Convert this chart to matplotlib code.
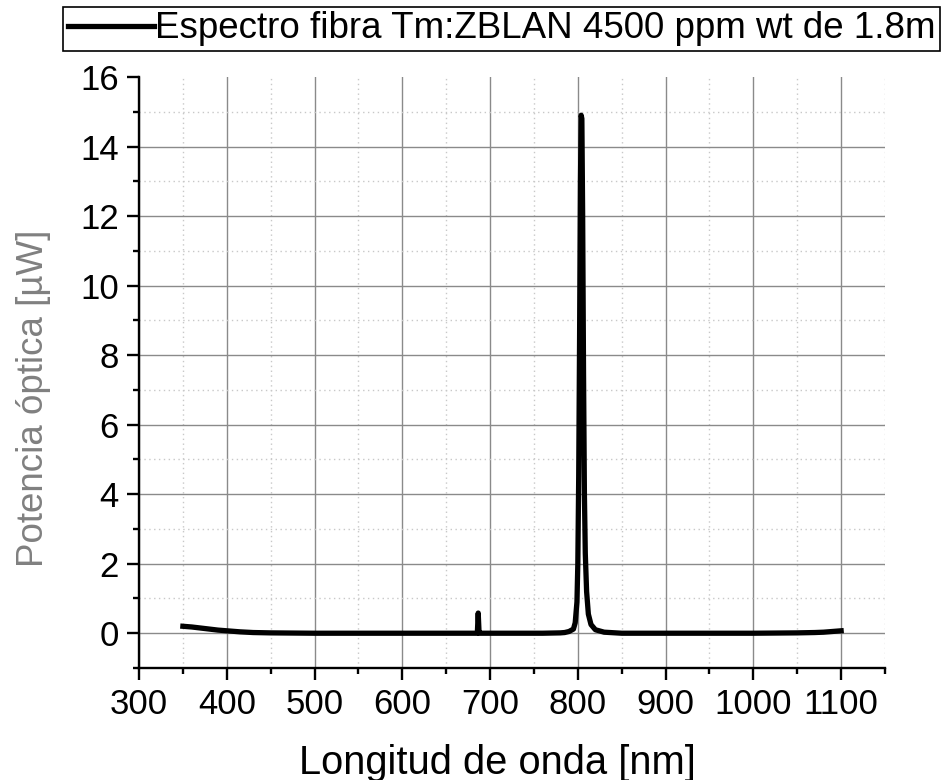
import matplotlib
matplotlib.use("Agg")
import matplotlib.pyplot as plt
from matplotlib.ticker import MultipleLocator

# espectro (nm, uW)
wl = [350, 360, 370, 380, 390, 400, 415, 430, 450, 500, 550, 600, 650, 680,
      685.5, 686.5, 687.5, 690, 720, 760, 780, 785, 790, 795, 797, 799, 800,
      801, 802, 803, 803.8, 804.6, 805.5, 806.5, 807.5, 808.5, 810, 812, 815,
      820, 830, 850, 900, 950, 1000, 1050, 1070, 1080, 1090, 1100]
pot = [0.2, 0.18, 0.15, 0.12, 0.09, 0.07, 0.04, 0.02, 0.01, 0.0, 0.0, 0.0, 0.0, 0.0,
       0.0, 0.58, 0.0, 0.0, 0.0, 0.0, 0.01, 0.02, 0.05, 0.12, 0.3, 0.9, 2.0,
       4.5, 8.5, 13.0, 14.9, 14.8, 12.0, 7.5, 4.0, 2.3, 1.2, 0.55, 0.25,
       0.1, 0.03, 0.0, 0.0, 0.0, 0.0, 0.01, 0.02, 0.03, 0.05, 0.07]

etiqueta = "Espectro fibra Tm:ZBLAN 4500 ppm wt de 1.8m"

plt.rcParams['font.family'] = ['Liberation Sans', 'DejaVu Sans']

fig = plt.figure(figsize=(9.43, 7.8), dpi=100)
ax = fig.add_axes([0.1474, 0.1436, 0.9385 - 0.1474, 0.9013 - 0.1436])

ax.plot(wl, pot, color='black', lw=3.8, solid_joinstyle='round', label=etiqueta)

ax.set_xlim(300, 1150)
ax.set_ylim(-1, 16)
ax.xaxis.set_major_locator(MultipleLocator(100))
ax.xaxis.set_minor_locator(MultipleLocator(50))
ax.yaxis.set_major_locator(MultipleLocator(2))
ax.yaxis.set_minor_locator(MultipleLocator(1))
ax.set_xticks(range(300, 1101, 100))

ax.grid(which='major', color='#8a8a8a', lw=1.0, ls='-')
ax.grid(which='minor', color='#c8c8c8', lw=1.0, ls=(0, (1, 2.5)))
ax.set_axisbelow(True)

for s in ['top', 'right']:
    ax.spines[s].set_visible(False)
for s in ['left', 'bottom']:
    ax.spines[s].set_linewidth(1.7)

ax.tick_params(which='major', direction='out', length=8.5, width=1.7, labelsize=25, pad=6)
ax.tick_params(which='minor', direction='out', length=4.3, width=1.7)

ax.set_xlabel("Longitud de onda [nm]", fontsize=28.7)
ax.set_ylabel("Potencia óptica [µW]", fontsize=26.5, color='#808080')
ax.xaxis.set_label_coords(0.48, -0.128)
ax.yaxis.set_label_coords(-0.118, 0.457)

fig.canvas.draw()
# sin linea de rejilla en el borde superior
for g, t in zip(ax.yaxis.get_gridlines(), ax.yaxis.get_majorticklocs()):
    if t >= 16:
        g.set_visible(False)

leg = fig.legend(loc='upper right', bbox_to_anchor=(940 / 943, 1 - 7 / 780),
                 fontsize=26.5, frameon=True, fancybox=False, framealpha=1,
                 edgecolor='black', handlelength=2.35, handletextpad=0.02,
                 borderpad=0.12, borderaxespad=0)
leg.get_frame().set_linewidth(1.2)

fig.savefig("out.png", dpi=100)
